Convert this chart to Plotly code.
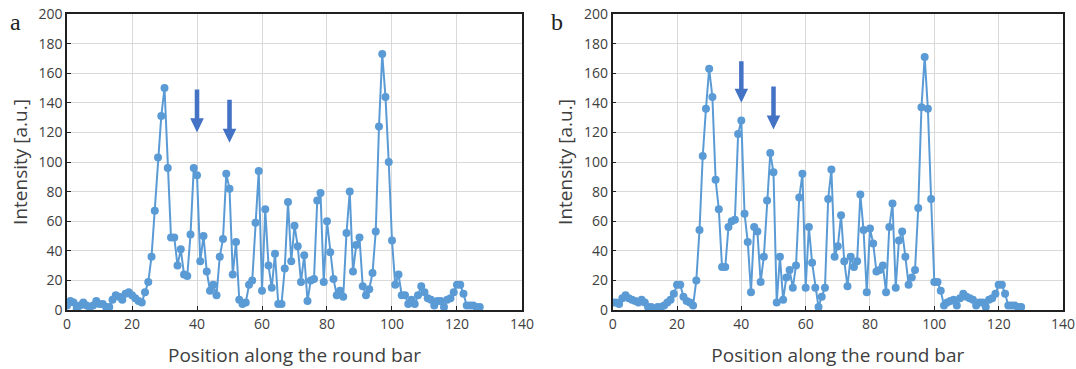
import plotly.graph_objects as go
from plotly.subplots import make_subplots

positions = list(range(128))

intensity_a = [3, 6, 5, 1, 3, 5, 3, 2, 3, 6, 4, 4, 2, 2, 7, 10, 9, 7, 11, 12,
               10, 8, 6, 5, 12, 19, 36, 67, 103, 131, 150, 96, 49, 49, 30, 41, 24, 23, 51, 96,
               91, 33, 50, 26, 13, 17, 10, 36, 48, 92, 82, 24, 46, 7, 4, 5, 17, 20, 59, 94,
               13, 68, 30, 15, 38, 4, 4, 28, 73, 33, 57, 43, 19, 37, 6, 20, 21, 74, 79, 19,
               60, 39, 21, 10, 13, 9, 52, 80, 26, 44, 49, 16, 10, 14, 25, 53, 124, 173, 144, 100,
               47, 17, 24, 10, 10, 4, 7, 4, 10, 16, 12, 8, 7, 3, 6, 6, 2, 7, 8, 12,
               17, 17, 11, 3, 3, 3, 2, 2]

intensity_b = [5, 5, 4, 8, 10, 8, 7, 6, 5, 7, 5, 2, 2, 0, 2, 2, 3, 5, 7, 11,
               17, 17, 9, 6, 5, 3, 20, 54, 104, 136, 163, 144, 88, 68, 29, 29, 56, 60, 61, 119,
               128, 65, 46, 12, 56, 53, 19, 36, 74, 106, 93, 5, 36, 7, 22, 27, 15, 30, 76, 92,
               15, 56, 32, 15, 2, 9, 15, 75, 95, 36, 43, 64, 33, 16, 36, 29, 33, 78, 54, 12,
               55, 45, 26, 27, 30, 12, 56, 72, 15, 47, 53, 36, 17, 22, 27, 69, 137, 171, 136, 75,
               19, 19, 13, 3, 5, 6, 7, 3, 8, 11, 9, 8, 7, 3, 5, 5, 2, 7, 8, 11,
               17, 17, 11, 3, 3, 3, 2, 2]

axis_ticks = [0, 20, 40, 60, 80, 100, 120, 140]
y_ticks = [0, 20, 40, 60, 80, 100, 120, 140, 160, 180, 200]

# arrows: x position, top of shaft, tip (data units)
arrows_a = [(40, 149, 120), (50, 142, 113)]
arrows_b = [(40, 168, 140), (50, 151, 122)]

panel_labels = ["a", "b"]

line_color = "#5B9BD5"
arrow_color = "#4472C4"
font_family = "Open Sans, Noto Sans, sans-serif"
text_color = "#404040"

fig = make_subplots(rows=1, cols=2)

for col, vals in ((1, intensity_a), (2, intensity_b)):
    fig.add_trace(go.Scatter(
        x=positions, y=vals, mode="lines+markers",
        line=dict(color=line_color, width=2),
        marker=dict(color=line_color, size=8),
        showlegend=False), row=1, col=col)

for col in (1, 2):
    fig.update_xaxes(range=[0, 140], tickvals=axis_ticks, showgrid=True,
                     gridcolor="#D9D9D9", gridwidth=1, automargin=False,
                     showline=True, linecolor="#202020", linewidth=1.5, mirror=True,
                     ticks="inside", ticklen=4, tickcolor="#202020",
                     ticklabeloverflow="allow",
                     tickfont=dict(family=font_family, size=14, color=text_color),
                     title=dict(text="Position along the round bar",
                                font=dict(family=font_family, size=19, color=text_color),
                                standoff=17),
                     zeroline=False, row=1, col=col)
    fig.update_yaxes(range=[0, 200], tickvals=y_ticks, showgrid=True,
                     gridcolor="#D9D9D9", gridwidth=1, automargin=False,
                     showline=True, linecolor="#202020", linewidth=1.5, mirror=True,
                     ticks="inside", ticklen=4, tickcolor="#202020",
                     ticklabeloverflow="allow",
                     tickfont=dict(family=font_family, size=14, color=text_color),
                     title=dict(text="Intensity [a.u.]",
                                font=dict(family=font_family, size=19, color=text_color),
                                standoff=6),
                     zeroline=False, row=1, col=col)

def arrow_path(x, top, tip, xhalf_shaft=0.7, xhalf_head=2.1, head_len=9.5):
    hb = tip + head_len
    return (f"M {x - xhalf_shaft} {top} L {x + xhalf_shaft} {top} L {x + xhalf_shaft} {hb} "
            f"L {x + xhalf_head} {hb} L {x} {tip} L {x - xhalf_head} {hb} "
            f"L {x - xhalf_shaft} {hb} Z")

for (arrows, xref, yref) in ((arrows_a, "x", "y"), (arrows_b, "x2", "y2")):
    for (ax, top, tip) in arrows:
        fig.add_shape(type="path", path=arrow_path(ax, top, tip), xref=xref, yref=yref,
                      fillcolor=arrow_color, line=dict(color=arrow_color, width=0))

fig.add_annotation(text=panel_labels[0], x=0.0074, y=0.973, xref="paper", yref="paper",
                   showarrow=False, xanchor="left", yanchor="middle",
                   font=dict(family="Liberation Serif, DejaVu Serif, serif", size=24, color="#222222"))
fig.add_annotation(text=panel_labels[1], x=0.5102, y=0.973, xref="paper", yref="paper",
                   showarrow=False, xanchor="left", yanchor="middle",
                   font=dict(family="Liberation Serif, DejaVu Serif, serif", size=24, color="#222222"))

fig.update_layout(width=1076, height=369,
                  margin=dict(l=0, r=0, t=14, b=59, autoexpand=False),
                  paper_bgcolor="white", plot_bgcolor="white")
fig.update_xaxes(domain=[0.0623, 0.4851], row=1, col=1)
fig.update_xaxes(domain=[0.5694, 0.9879], row=1, col=2)

# remove the browser's default 8px page margin so the figure fills the window exactly
fig.write_html("out.html", config={"displayModeBar": False},
               post_script="document.body.style.margin='0px';")
